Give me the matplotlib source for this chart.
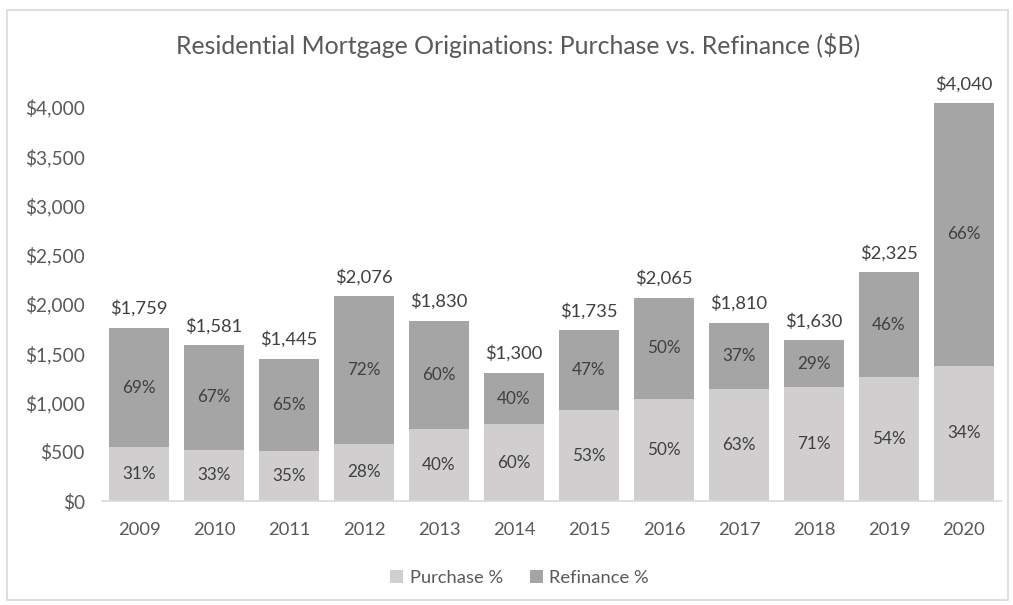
import matplotlib.pyplot as plt
from matplotlib.patches import Rectangle
import numpy as np

plt.rcParams['font.family'] = ['Lato', 'DejaVu Sans']

# 資料
years = ['2009', '2010', '2011', '2012', '2013', '2014',
         '2015', '2016', '2017', '2018', '2019', '2020']
totals = [1759, 1581, 1445, 2076, 1830, 1300, 1735, 2065, 1810, 1630, 2325, 4040]
purchase_pct = [31, 33, 35, 28, 40, 60, 53, 50, 63, 71, 54, 34]
refi_pct = [69, 67, 65, 72, 60, 40, 47, 50, 37, 29, 46, 66]

purchase = [t * p / 100 for t, p in zip(totals, purchase_pct)]
refinance = [t - p for t, p in zip(totals, purchase)]

c_purchase = '#D0CECE'
c_refi = '#A5A5A5'
c_text = '#595959'

fig = plt.figure(figsize=(10.13, 6.05), dpi=100)
ax = fig.add_axes([0.1002, 0.1719, 0.8884, 0.7327])

x = np.arange(len(years))
b1 = ax.bar(x, purchase, width=0.81, color=c_purchase, label='Purchase %')
b2 = ax.bar(x, refinance, width=0.81, bottom=purchase, color=c_refi, label='Refinance %')

# 百分比標籤
for i in range(len(years)):
    ax.text(x[i], purchase[i] / 2, f'{purchase_pct[i]}%', ha='center', va='center',
            fontsize=12.3, color='#404040')
    ax.text(x[i], purchase[i] + refinance[i] / 2, f'{refi_pct[i]}%', ha='center',
            va='center', fontsize=12.3, color='#404040')
    ax.text(x[i], totals[i] + 110, f'${totals[i]:,}', ha='center', va='bottom',
            fontsize=13.2, color='#404040')

ax.set_xlim(-0.5, len(years) - 0.5)
ax.set_ylim(0, 4500)
ax.set_yticks(range(0, 4001, 500))
ax.set_yticklabels([f'${v:,}' for v in range(0, 4001, 500)])
ax.set_xticks(x)
ax.set_xticklabels(years)
ax.tick_params(axis='both', length=0, labelsize=13.8, colors=c_text)
ax.tick_params(axis='x', labelsize=13.2)
ax.tick_params(axis='y', pad=12)
ax.tick_params(axis='x', pad=15)

for s in ['top', 'right', 'left']:
    ax.spines[s].set_visible(False)
ax.spines['bottom'].set_color('#D9D9D9')
ax.spines['bottom'].set_linewidth(1.2)

fig.text(0.511, 0.925, 'Residential Mortgage Originations: Purchase vs. Refinance ($B)',
         ha='center', va='center', fontsize=17.9, color=c_text)

fig.legend(handles=[b1, b2], loc='center', bbox_to_anchor=(0.513, 0.045), ncol=2,
           frameon=False, fontsize=13.2, handlelength=0.7, handleheight=0.7,
           handletextpad=0.35, columnspacing=1.5, labelcolor=c_text)

# 外框
fig.patches.append(Rectangle((0.007, 0.008), 0.988, 0.975, transform=fig.transFigure,
                             fill=False, edgecolor='#D9D9D9', linewidth=1.2))

plt.savefig('out.png', dpi=100, facecolor='white')
